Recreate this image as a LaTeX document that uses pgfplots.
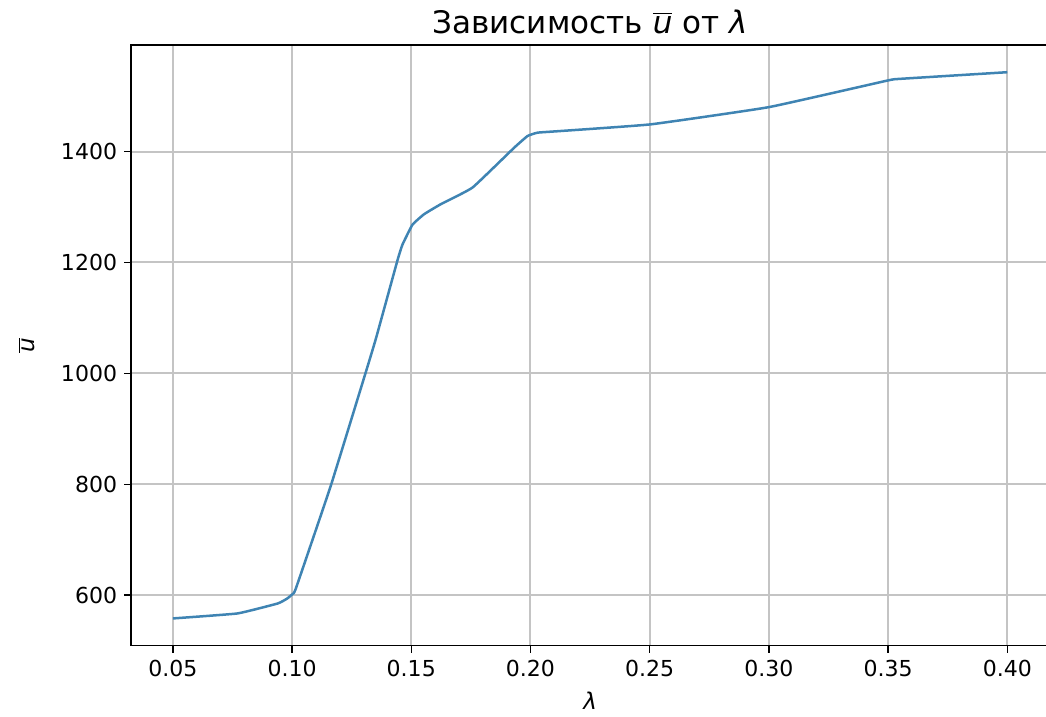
\documentclass[border=0pt]{standalone}
\usepackage{fontspec}
\setmainfont{DejaVu Sans}
\usepackage{pgfplots}
\pgfplotsset{compat=1.18}
\definecolor{lineblue}{HTML}{3F84B3}
\definecolor{gridgray}{HTML}{C4C4C4}
\begin{document}
\begin{tikzpicture}
\path[use as bounding box] (-65.5pt,-35.5pt) rectangle (457pt,322.5pt);
\begin{axis}[
  at={(0,0)}, anchor=south west,
  scale only axis,
  width=458.5pt, height=300pt,
  xmin=0.0325, xmax=0.4175,
  ymin=509, ymax=1592,
  xtick={0.05,0.10,0.15,0.20,0.25,0.30,0.35,0.40},
  ytick={600,800,1000,1200,1400},
  xticklabels={0.05,0.10,0.15,0.20,0.25,0.30,0.35,0.40},
  yticklabels={600,800,1000,1200,1400},
  tick pos=left,
  tick align=outside,
  major tick length=3.5pt,
  every tick/.style={black, line width=0.7pt},
  grid=major,
  major grid style={gridgray, line width=1pt},
  axis line style={black, line width=0.8pt},
  ticklabel style={font=\fontsize{11}{13}\selectfont},
  /pgf/number format/assume math mode=true,
  title={Зависимость $\overline{\mbox{\itshape u}}$ от \textit{λ}},
  title style={font=\fontsize{15.5}{18}\selectfont, yshift=-4pt},
  xlabel={\textit{λ}},
  ylabel={$\overline{\mbox{\itshape u}}$},
  label style={font=\fontsize{11.5}{13}\selectfont},
  xlabel style={yshift=-1pt},
  ylabel style={yshift=6pt},
]
\addplot[lineblue, line width=1.25pt, line join=round, smooth, tension=0.2] coordinates {
(0.05,558) (0.0771,567) (0.094,585) (0.098,594) (0.1002,602) (0.1016,612)
(0.1163,798) (0.131,1003) (0.1352,1063) (0.1443,1205) (0.1463,1232)
(0.1505,1268) (0.1554,1287) (0.1624,1305) (0.1757,1335) (0.1932,1407)
(0.1988,1428) (0.203,1434) (0.2128,1437) (0.2505,1449) (0.300,1480)
(0.3498,1528) (0.355,1531) (0.40,1543)
};
\end{axis}
\end{tikzpicture}
\end{document}
